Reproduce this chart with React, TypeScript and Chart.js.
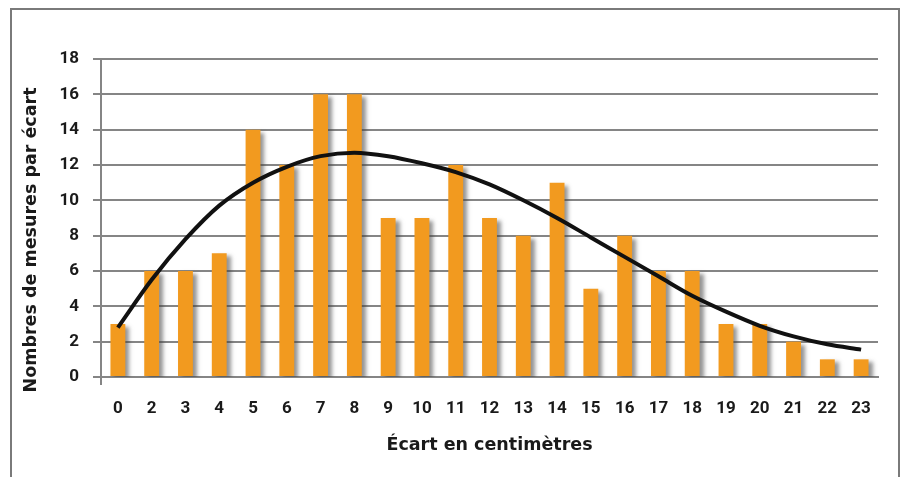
import React, { useEffect, useRef } from "react";
import { Chart, registerables } from "chart.js";

Chart.register(...registerables);

const categories = ["0", "2", "3", "4", "5", "6", "7", "8", "9", "10", "11", "12", "13", "14", "15", "16", "17", "18", "19", "20", "21", "22", "23"];
const counts = [3, 6, 6, 7, 14, 12, 16, 16, 9, 9, 12, 9, 8, 11, 5, 8, 6, 6, 3, 3, 2, 1, 1];
const curve = [2.8, 5.5, 7.8, 9.7, 11.0, 11.9, 12.5, 12.7, 12.5, 12.1, 11.6, 10.9, 10.0, 9.0, 7.9, 6.8, 5.7, 4.6, 3.7, 2.9, 2.3, 1.85, 1.55];
const yTitle = "Nombres de mesures par écart";
const xTitle = "Écart en centimètres";

const GRID = "#858585";
const ORANGE = "#F29A1F";
const TICK_FONT = "Roboto, 'DejaVu Sans', sans-serif";
const TITLE_FONT = "'DejaVu Sans', Roboto, sans-serif";

export default function App() {
  const ref = useRef<HTMLCanvasElement | null>(null);

  useEffect(() => {
    if (!ref.current) return;

    const orderPlugin = {
      id: "orderAndDecor",
      beforeDatasetDraw(chart: any, args: any) {
        const ds = chart.data.datasets[args.index];
        if (ds.type === "line") return false; // drawn later, above the grid
        const ctx = chart.ctx;
        ctx.save();
        ctx.shadowColor = "rgba(60,60,60,0.55)";
        ctx.shadowBlur = 4;
        ctx.shadowOffsetX = 4;
        ctx.shadowOffsetY = 3;
      },
      afterDatasetDraw(chart: any, args: any) {
        const ds = chart.data.datasets[args.index];
        if (ds.type === "line") return;
        chart.ctx.restore();
      },
      afterDraw(chart: any) {
        const ctx = chart.ctx;
        chart.data.datasets.forEach((ds: any, i: number) => {
          if (ds.type !== "line") return;
          const meta = chart.getDatasetMeta(i);
          ctx.save();
          meta.controller.draw();
          ctx.restore();
        });
        // rotated y-axis title
        ctx.save();
        ctx.font = `bold 17.5px ${TITLE_FONT}`;
        ctx.fillStyle = "#1a1a1a";
        ctx.textAlign = "center";
        ctx.textBaseline = "middle";
        ctx.translate(31, 240);
        ctx.rotate(-Math.PI / 2);
        ctx.fillText(yTitle, 0, 0);
        ctx.restore();
      },
    };

    const chart = new Chart(ref.current, {
      type: "bar",
      data: {
        labels: categories,
        datasets: [
          {
            type: "line",
            data: curve,
            borderColor: "#111111",
            borderWidth: 4,
            pointRadius: 0,
            tension: 0.4,
            cubicInterpolationMode: "monotone",
            fill: false,
            order: 0,
          } as any,
          {
            type: "bar",
            data: counts,
            backgroundColor: ORANGE,
            borderWidth: 0,
            barPercentage: 0.44,
            categoryPercentage: 1,
            order: 1,
          } as any,
        ],
      },
      plugins: [orderPlugin],
      options: {
        responsive: false,
        animation: false,
        devicePixelRatio: 1,
        layout: { padding: { left: 0, top: 59, right: 22, bottom: 0 } },
        plugins: {
          legend: { display: false },
          tooltip: { enabled: false },
          title: { display: false },
        },
        scales: {
          x: {
            afterFit: (s: any) => {
              s.height = 100;
            },
            grid: {
              display: true,
              drawOnChartArea: false,
              drawTicks: true,
              tickLength: 8,
              lineWidth: 2,
              color: (c: any) => (c.index === 0 ? GRID : "rgba(0,0,0,0)"),
            },
            border: { display: true, color: GRID, width: 2 },
            ticks: {
              color: "#1a1a1a",
              font: { family: TICK_FONT, size: 17, weight: "bold" },
              padding: 14,
              maxRotation: 0,
              autoSkip: false,
            },
            title: {
              display: true,
              text: xTitle,
              color: "#1a1a1a",
              font: { family: TITLE_FONT, size: 17.5, weight: "bold" },
              padding: { top: 0, bottom: 21 },
            },
          },
          y: {
            z: 1,
            min: 0,
            max: 18,
            afterFit: (s: any) => {
              s.width = 101;
            },
            grid: {
              color: GRID,
              lineWidth: 2,
              drawTicks: true,
              tickLength: 8,
            },
            border: { display: true, color: GRID, width: 2 },
            ticks: {
              stepSize: 2,
              color: "#1a1a1a",
              font: { family: TICK_FONT, size: 17, weight: "bold" },
              padding: 14,
            },
          },
        },
      } as any,
    });
    return () => chart.destroy();
  }, []);

  return (
    <div style={{ position: "absolute", left: 0, top: 0, width: 900, height: 477, overflow: "hidden", background: "#fff" }}>
      <canvas ref={ref} width={900} height={477} style={{ position: "absolute", left: 0, top: 0, width: 900, height: 477 }} />
      <div
        style={{
          position: "absolute",
          left: 10,
          top: 8,
          width: 886,
          height: 480,
          borderTop: "2px solid #7a7a7a",
          borderLeft: "2px solid #7a7a7a",
          borderRight: "2px solid #7a7a7a",
          pointerEvents: "none",
        }}
      />
    </div>
  );
}
